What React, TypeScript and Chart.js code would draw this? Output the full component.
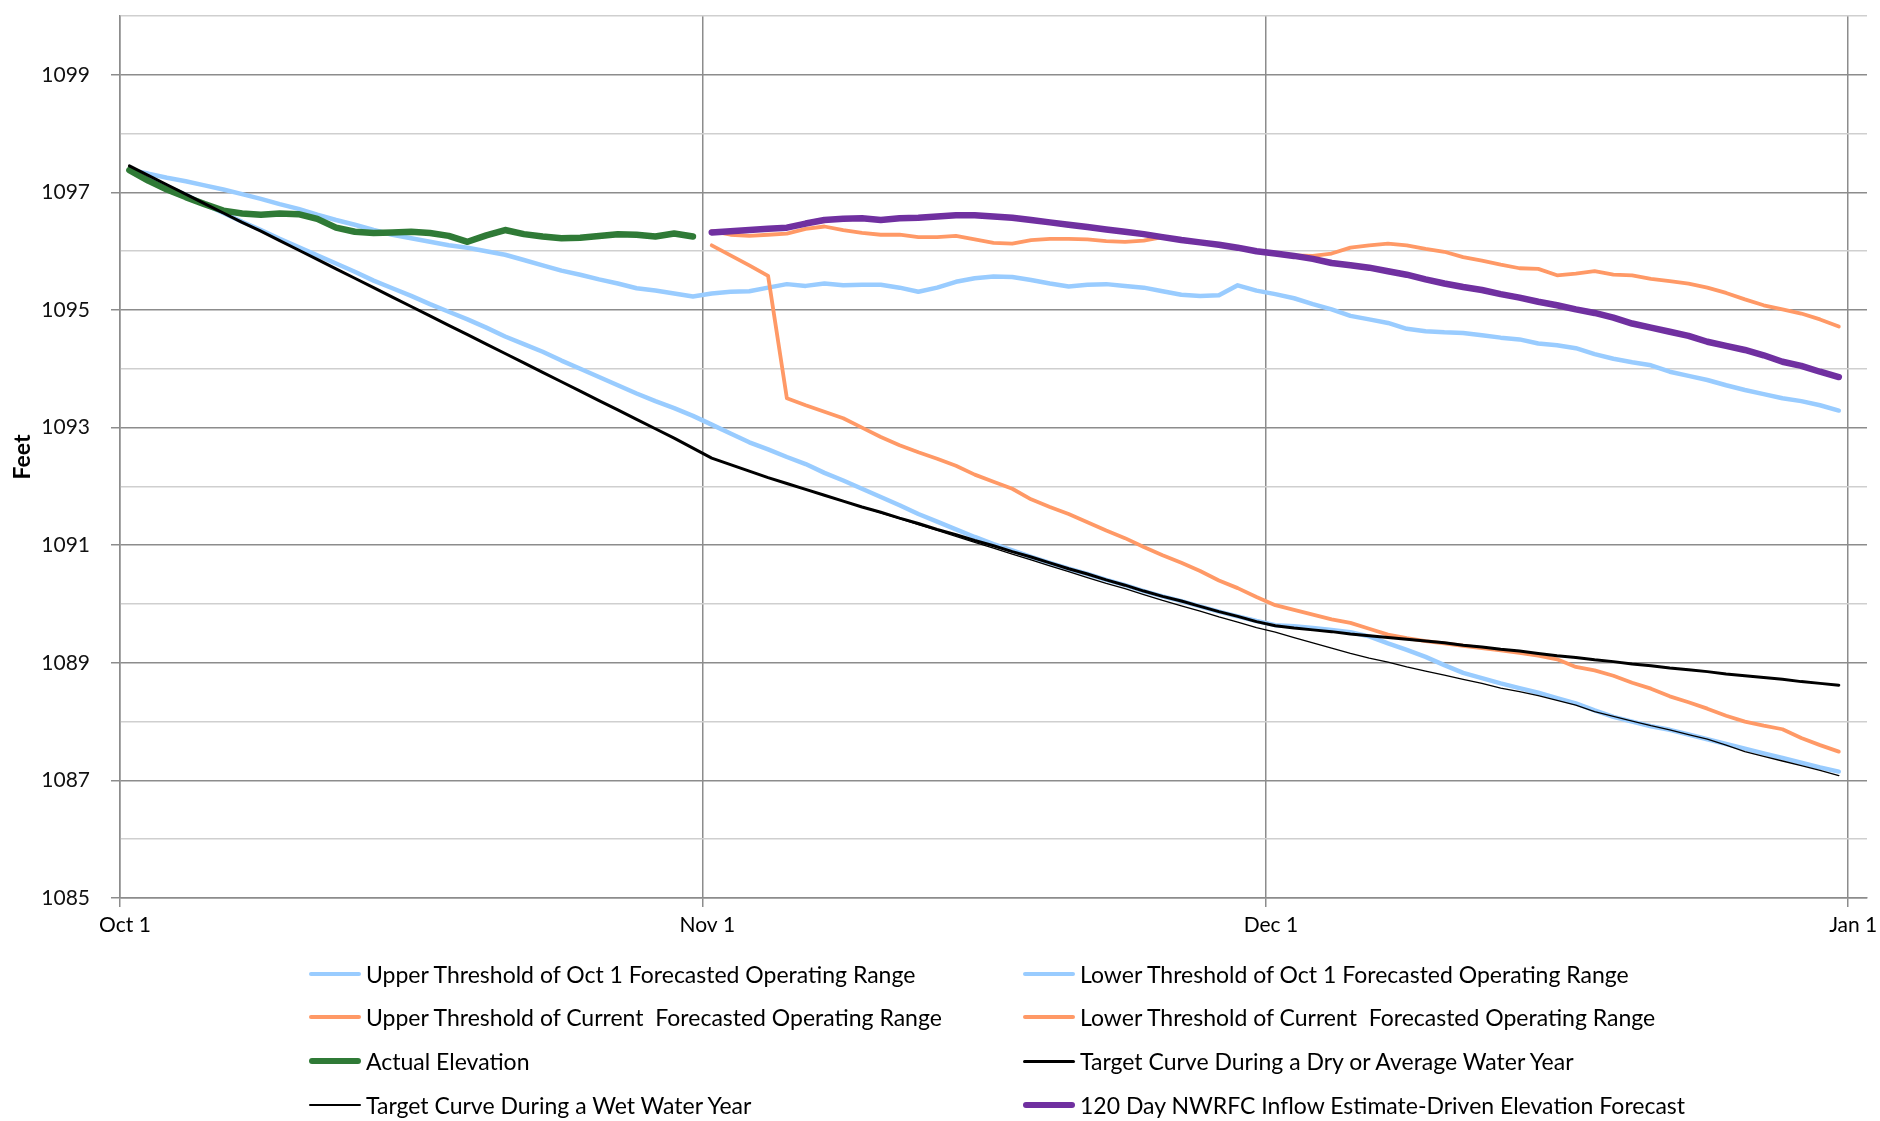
import React, { useEffect, useRef } from "react";
import { Chart, registerables } from "chart.js";

Chart.register(...registerables);

// ---------- data ----------
const TICK_DAYS = [0, 31, 61, 92];
const TICK_LABELS = ["Oct 1", "Nov 1", "Dec 1", "Jan 1"];
const Y_MIN = 1085;
const Y_MAX = 1100;
const X_MAX = 93;

const N31 = [null, null, null, null, null, null, null, null, null, null, null, null, null, null, null, null, null, null, null, null, null, null, null, null, null, null, null, null, null, null, null];

const UPPER_OCT1 = [
  1097.38, 1097.32, 1097.25, 1097.19, 1097.12, 1097.05, 1096.97, 1096.89, 1096.80, 1096.72, 1096.62, 1096.53, 1096.45, 1096.36, 1096.28, 1096.22, 1096.16, 1096.10, 1096.06, 1096.00, 1095.94, 1095.85, 1095.76, 1095.67, 1095.60, 1095.52, 1095.45, 1095.37, 1095.33, 1095.28, 1095.23,
  1095.28, 1095.31, 1095.32, 1095.38, 1095.44, 1095.41, 1095.45, 1095.42, 1095.43, 1095.43, 1095.38, 1095.31, 1095.38, 1095.48, 1095.54, 1095.57, 1095.56, 1095.51, 1095.45, 1095.40, 1095.43, 1095.44, 1095.41, 1095.38, 1095.32, 1095.26, 1095.24, 1095.25, 1095.42, 1095.33,
  1095.27, 1095.20, 1095.10, 1095.01, 1094.90, 1094.84, 1094.78, 1094.68, 1094.64, 1094.62, 1094.61, 1094.57, 1094.53, 1094.50, 1094.43, 1094.40, 1094.35, 1094.25, 1094.17, 1094.11, 1094.06, 1093.95, 1093.88, 1093.81, 1093.72, 1093.64, 1093.57, 1093.50, 1093.45, 1093.38, 1093.29,
];

const LOWER_OCT1 = [
  1097.38, 1097.24, 1097.10, 1096.96, 1096.80, 1096.65, 1096.50, 1096.36, 1096.21, 1096.07, 1095.93, 1095.79, 1095.65, 1095.50, 1095.37, 1095.24, 1095.10, 1094.97, 1094.84, 1094.70, 1094.55, 1094.42, 1094.29, 1094.14, 1094.00, 1093.86, 1093.72, 1093.58, 1093.45, 1093.33, 1093.20,
  1093.05, 1092.90, 1092.75, 1092.63, 1092.50, 1092.38, 1092.23, 1092.10, 1091.96, 1091.82, 1091.68, 1091.53, 1091.40, 1091.27, 1091.14, 1091.02, 1090.91, 1090.80, 1090.70, 1090.60, 1090.51, 1090.41, 1090.32, 1090.22, 1090.13, 1090.05, 1089.96, 1089.87, 1089.79, 1089.71,
  1089.64, 1089.62, 1089.59, 1089.56, 1089.52, 1089.45, 1089.33, 1089.22, 1089.10, 1088.96, 1088.83, 1088.74, 1088.65, 1088.57, 1088.49, 1088.40, 1088.31, 1088.19, 1088.08, 1088.00, 1087.92, 1087.86, 1087.78, 1087.70, 1087.62, 1087.54, 1087.46, 1087.38, 1087.30, 1087.22, 1087.15,
];

const UPPER_CURRENT = [
  ...N31,
  1096.34, 1096.28, 1096.26, 1096.28, 1096.30, 1096.38, 1096.42, 1096.36, 1096.31, 1096.28, 1096.28, 1096.24, 1096.24, 1096.26, 1096.20, 1096.14, 1096.13, 1096.19, 1096.21, 1096.21, 1096.20, 1096.17, 1096.16, 1096.18, 1096.24, 1096.20, 1096.15, 1096.10, 1096.05, 1096.00,
  1095.96, 1095.93, 1095.92, 1095.96, 1096.06, 1096.10, 1096.13, 1096.10, 1096.04, 1095.99, 1095.90, 1095.84, 1095.77, 1095.71, 1095.70, 1095.59, 1095.62, 1095.66, 1095.60, 1095.59, 1095.53, 1095.49, 1095.45, 1095.38, 1095.29, 1095.18, 1095.08, 1095.01, 1094.94, 1094.84, 1094.72,
];

const LOWER_CURRENT = [
  ...N31,
  1096.10, 1095.93, 1095.76, 1095.58, 1093.50, 1093.38, 1093.27, 1093.16, 1093.00, 1092.84, 1092.70, 1092.58, 1092.47, 1092.35, 1092.20, 1092.08, 1091.96, 1091.78, 1091.65, 1091.53, 1091.39, 1091.25, 1091.12, 1090.97, 1090.83, 1090.70, 1090.56, 1090.40, 1090.27, 1090.12,
  1089.98, 1089.90, 1089.82, 1089.74, 1089.68, 1089.58, 1089.48, 1089.42, 1089.37, 1089.33, 1089.29, 1089.25, 1089.21, 1089.17, 1089.12, 1089.06, 1088.93, 1088.87, 1088.78, 1088.66, 1088.56, 1088.43, 1088.33, 1088.22, 1088.10, 1088.00, 1087.93, 1087.87, 1087.72, 1087.60, 1087.49,
];

const ACTUAL = [
  1097.38, 1097.20, 1097.05, 1096.92, 1096.80, 1096.69, 1096.64, 1096.62, 1096.64, 1096.63, 1096.55, 1096.40, 1096.33, 1096.31, 1096.32, 1096.33, 1096.31, 1096.26, 1096.16, 1096.27, 1096.36, 1096.29, 1096.25, 1096.22, 1096.23, 1096.26, 1096.29, 1096.28, 1096.25, 1096.30, 1096.25,
];

const DRY_AVG = [
  1097.45, 1097.29, 1097.13, 1096.97, 1096.81, 1096.65, 1096.49, 1096.34, 1096.18, 1096.02, 1095.86, 1095.70, 1095.54, 1095.38, 1095.22, 1095.06, 1094.90, 1094.74, 1094.58, 1094.42, 1094.26, 1094.10, 1093.94, 1093.78, 1093.62, 1093.46, 1093.30, 1093.14, 1092.98, 1092.82, 1092.65,
  1092.48, 1092.37, 1092.26, 1092.15, 1092.05, 1091.95, 1091.85, 1091.75, 1091.65, 1091.56, 1091.46, 1091.37, 1091.27, 1091.18, 1091.08, 1090.99, 1090.89, 1090.80, 1090.70, 1090.60, 1090.51, 1090.41, 1090.32, 1090.22, 1090.13, 1090.05, 1089.96, 1089.87, 1089.79, 1089.70,
  1089.63, 1089.59, 1089.56, 1089.53, 1089.49, 1089.46, 1089.43, 1089.40, 1089.37, 1089.34, 1089.30, 1089.27, 1089.23, 1089.20, 1089.16, 1089.12, 1089.09, 1089.05, 1089.02, 1088.98, 1088.95, 1088.91, 1088.88, 1088.85, 1088.81, 1088.78, 1088.75, 1088.72, 1088.68, 1088.65, 1088.62,
];

const WET = [
  1097.45, 1097.29, 1097.13, 1096.97, 1096.81, 1096.65, 1096.49, 1096.34, 1096.18, 1096.02, 1095.86, 1095.70, 1095.54, 1095.38, 1095.22, 1095.06, 1094.90, 1094.74, 1094.58, 1094.42, 1094.26, 1094.10, 1093.94, 1093.78, 1093.62, 1093.46, 1093.30, 1093.14, 1092.98, 1092.82, 1092.65,
  1092.48, 1092.37, 1092.26, 1092.15, 1092.05, 1091.95, 1091.85, 1091.75, 1091.65, 1091.55, 1091.45, 1091.35, 1091.25, 1091.15, 1091.05, 1090.95, 1090.85, 1090.75, 1090.65, 1090.55, 1090.45, 1090.35, 1090.26, 1090.16, 1090.06, 1089.97, 1089.88, 1089.78, 1089.69, 1089.60,
  1089.52, 1089.43, 1089.34, 1089.25, 1089.16, 1089.08, 1089.01, 1088.93, 1088.86, 1088.79, 1088.72, 1088.65, 1088.57, 1088.51, 1088.44, 1088.36, 1088.28, 1088.17, 1088.09, 1088.01, 1087.93, 1087.86, 1087.78, 1087.70, 1087.60, 1087.49, 1087.41, 1087.33, 1087.25, 1087.17, 1087.08,
];

const FORECAST_120 = [
  ...N31,
  1096.32, 1096.34, 1096.36, 1096.38, 1096.40, 1096.47, 1096.53, 1096.55, 1096.56, 1096.53, 1096.56, 1096.57, 1096.59, 1096.61, 1096.61, 1096.59, 1096.57, 1096.53, 1096.49, 1096.45, 1096.41, 1096.37, 1096.33, 1096.29, 1096.24, 1096.19, 1096.15, 1096.11, 1096.06, 1096.00,
  1095.96, 1095.92, 1095.87, 1095.80, 1095.76, 1095.72, 1095.66, 1095.60, 1095.52, 1095.45, 1095.39, 1095.34, 1095.27, 1095.21, 1095.14, 1095.08, 1095.01, 1094.95, 1094.87, 1094.77, 1094.70, 1094.63, 1094.56, 1094.46, 1094.39, 1094.32, 1094.23, 1094.12, 1094.05, 1093.95, 1093.86,
];

const SERIES_NAMES = [
  "Upper Threshold of Oct 1 Forecasted Operating Range",
  "Lower Threshold of Oct 1 Forecasted Operating Range",
  "Upper Threshold of Current  Forecasted Operating Range",
  "Lower Threshold of Current  Forecasted Operating Range",
  "Actual Elevation",
  "Target Curve During a Dry or Average Water Year",
  "Target Curve During a Wet Water Year",
  "120 Day NWRFC Inflow Estimate-Driven Elevation Forecast",
];
const SERIES_VALUES = [UPPER_OCT1, LOWER_OCT1, UPPER_CURRENT, LOWER_CURRENT, ACTUAL, DRY_AVG, WET, FORECAST_120];

// ---------- styles ----------
const COLORS = ["#99CCFF", "#99CCFF", "#FF9966", "#FF9966", "#2F7A36", "#000000", "#000000", "#7030A0"];
const WIDTHS = [4.5, 4.5, 3.8, 3.8, 6.5, 3, 1.3, 6.5];
const FONT = "Lato, 'Open Sans', sans-serif";
const GRID_MAJOR = "#8c8c8c";
const GRID_MINOR = "#cfcfcf";

const W = 1880;
const H = 1121;
const AREA_TOP = 16;
const AREA_BOTTOM = 898;
const AREA_LEFT = 120;
const AREA_RIGHT = 1867;
const X_SCALE_H = 60;

const LEGEND_COLS = [309, 1023];
const LEGEND_ROWS = [974, 1017, 1061, 1105];

export default function App() {
  const ref = useRef<HTMLCanvasElement | null>(null);

  useEffect(() => {
    const canvas = ref.current;
    if (!canvas) return;
    const datasets = SERIES_VALUES.map((vals, k) => ({
      label: SERIES_NAMES[k],
      data: vals.map((v, i) => ({ x: i + 0.5, y: v })),
      borderColor: COLORS[k],
      backgroundColor: COLORS[k],
      borderWidth: WIDTHS[k],
      pointRadius: 0,
      tension: 0,
      fill: false,
      spanGaps: false,
      borderCapStyle: "round" as const,
      borderJoinStyle: "round" as const,
      order: 20 - k,
    }));

    const chart = new Chart(canvas, {
      type: "line",
      data: { datasets },
      options: {
        animation: false,
        responsive: false,
        devicePixelRatio: 1,
        layout: {
          padding: {
            left: 0,
            top: AREA_TOP,
            right: W - AREA_RIGHT,
            bottom: H - AREA_BOTTOM - X_SCALE_H,
          },
        },
        plugins: {
          legend: { display: false },
          tooltip: { enabled: false },
        },
        scales: {
          x: {
            type: "linear",
            min: 0,
            max: X_MAX,
            afterBuildTicks: (s: any) => {
              s.ticks = TICK_DAYS.map((v) => ({ value: v }));
            },
            afterFit: (s: any) => {
              s.height = X_SCALE_H;
              s.paddingLeft = 0;
              s.paddingRight = 0;
            },
            ticks: {
              autoSkip: false,
              maxRotation: 0,
              minRotation: 0,
              padding: 6,
              labelOffset: 5,
              color: "#000",
              font: { family: FONT, size: 21 },
              callback: (v: any) => {
                const idx = TICK_DAYS.indexOf(Number(v));
                return idx >= 0 ? TICK_LABELS[idx] : "";
              },
            },
            grid: {
              color: GRID_MAJOR,
              lineWidth: 1.5,
              tickLength: 9,
              tickColor: GRID_MAJOR,
              tickWidth: 1.5,
            },
            border: { display: true, color: GRID_MAJOR, width: 1.5 },
          },
          y: {
            type: "linear",
            min: Y_MIN,
            max: Y_MAX,
            afterFit: (s: any) => {
              s.width = AREA_LEFT;
              s.paddingTop = 0;
              s.paddingBottom = 0;
            },
            ticks: {
              stepSize: 1,
              autoSkip: false,
              padding: 21,
              color: "#111",
              font: { family: FONT, size: 21 },
              callback: (v: any) => (Number(v) % 2 === 1 ? String(v) : ""),
            },
            grid: {
              color: (c: any) => (c.tick && Math.round(c.tick.value) % 2 === 1 ? GRID_MAJOR : GRID_MINOR),
              lineWidth: 1.5,
              tickLength: 9,
              tickColor: (c: any) => (c.tick && Math.round(c.tick.value) % 2 === 1 ? GRID_MAJOR : "rgba(0,0,0,0)"),
              tickWidth: 1.5,
            },
            border: { display: true, color: GRID_MAJOR, width: 1.5 },
            title: {
              display: true,
              text: "Feet",
              color: "#000",
              font: { family: FONT, size: 23, weight: "bold" },
              padding: { top: 9, bottom: 0 },
            },
          },
        },
      },
    } as any);
    return () => chart.destroy();
  }, []);

  return (
    <div style={{ position: "fixed", left: 0, top: 0, width: W, height: H, background: "#fff", overflow: "hidden" }}>
      <canvas ref={ref} width={W} height={H} style={{ position: "absolute", left: 0, top: 0, width: W, height: H }} />
      {SERIES_NAMES.map((name, k) => {
        const col = k % 2;
        const row = Math.floor(k / 2);
        const cy = LEGEND_ROWS[row];
        const lx = LEGEND_COLS[col];
        const w = WIDTHS[k];
        return (
          <div key={k} style={{ position: "absolute", left: lx, top: cy - 16, height: 32, display: "flex", alignItems: "center", whiteSpace: "pre" }}>
            <div style={{ width: 52, height: Math.max(w, 1.3), background: COLORS[k], borderRadius: w, marginRight: 5 }} />
            <span style={{ fontFamily: FONT, fontSize: 23, color: "#000", lineHeight: "32px" }}>{name}</span>
          </div>
        );
      })}
    </div>
  );
}
